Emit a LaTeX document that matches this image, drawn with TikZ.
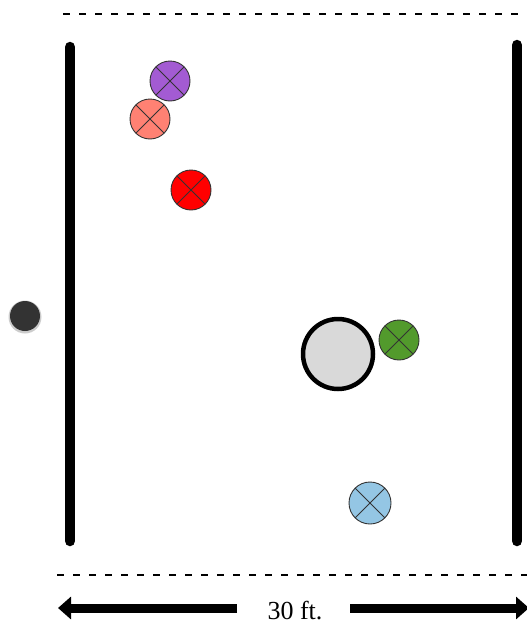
\documentclass[tikz,border=0pt]{standalone}
\usepackage{fontspec}
\setmainfont{Liberation Serif}
\usetikzlibrary{arrows.meta}
\definecolor{cpurple}{HTML}{A35BD3}
\definecolor{csalmon}{HTML}{FF8173}
\definecolor{cred}{HTML}{FF0000}
\definecolor{cgreen}{HTML}{529A2C}
\definecolor{cblue}{HTML}{94C6E4}
\definecolor{cgrey}{HTML}{D9D9D9}
\definecolor{cdark}{HTML}{333333}
\begin{document}
\begin{tikzpicture}[x=1pt,y=-1pt,
  wall/.style={line width=10.5pt,line cap=round},
  sideline/.style={line width=2pt,dash pattern=on 7pt off 9pt},
  player/.style={circle,draw=cdark,line width=0.9pt,minimum size=40pt,inner sep=0pt,
    path picture={\draw[cdark,line width=1pt]
      (path picture bounding box.north west) -- (path picture bounding box.south east)
      (path picture bounding box.north east) -- (path picture bounding box.south west);}},
  dimarrow/.style={line width=9pt,-{Triangle[width=22pt,length=13pt]}}
]
\useasboundingbox (0,0) rectangle (527,624);
% sidelines
\coordinate (tl) at (63,14); \coordinate (tr) at (527,14);
\draw[sideline] (tl) -- (tr);
\coordinate (bl) at (57,575); \coordinate (br) at (527,575);
\draw[sideline] (bl) -- (br);
% walls
\coordinate (lw1) at (70,47); \coordinate (lw2) at (70,541);
\draw[wall] (lw1) -- (lw2);
\coordinate (rw1) at (517,45); \coordinate (rw2) at (517,541);
\draw[wall] (rw1) -- (rw2);
% dark dot
\fill[black!20] (25,317) circle (16.5pt);
\node[circle,fill=cdark,minimum size=30pt,inner sep=0pt] (dot) at (25,316) {};
% players
\node[player,fill=cpurple] (p1) at (170,81) {};
\node[player,fill=csalmon] (p2) at (150,119) {};
\node[player,fill=cred] (p3) at (191,190) {};
\node[player,fill=cgreen] (p4) at (399,340) {};
\node[player,fill=cblue,minimum size=42pt] (p5) at (370,503) {};
% big circle
\node[circle,draw=black,line width=4.5pt,fill=cgrey,minimum size=70pt,inner sep=0pt] (big) at (338,354) {};
% dimension
\node[font=\fontsize{26}{28}\selectfont,anchor=base,inner sep=0pt,text depth=0pt] (lbl) at (295,619) {30 ft.};
\coordinate (a1) at (237,608); \coordinate (a1e) at (58,608);
\coordinate (a2) at (350,608); \coordinate (a2e) at (529,608);
\draw[dimarrow] (a1) -- (a1e);
\draw[dimarrow] (a2) -- (a2e);
\end{tikzpicture}
\end{document}
